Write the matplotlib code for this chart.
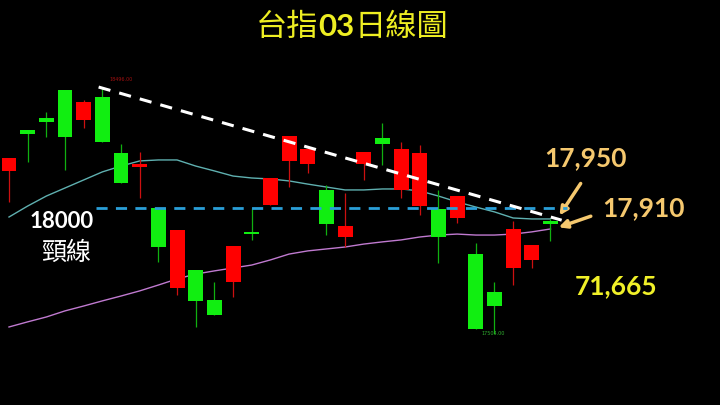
import numpy as np
import matplotlib
matplotlib.use("Agg")
import matplotlib.pyplot as plt

# =========================
# DATA (daily candles)
# =========================
opens = [18152, 18320, 18369, 18484, 18361, 18455, 18226, 18168, 18000, 17672,
         17746, 17623, 17697, 17900, 18012, 18193, 18180, 18074, 17881, 18180,
         18287, 18074, 18008, 17996, 17959, 17811, 17656, 17754, 17787, 17947]
closes = [18205, 18303, 18353, 18291, 18435, 18271, 18103, 18180, 17840, 17910,
          17619, 17561, 17844, 17893, 18123, 18295, 18242, 17934, 17926, 18230,
          18262, 18242, 18226, 17881, 18049, 17504, 17598, 17914, 17848, 17934]
highs = [18205, 18320, 18394, 18484, 18443, 18496, 18262, 18230, 18000, 17910,
         17746, 17697, 17844, 18000, 18123, 18295, 18242, 18094, 18062, 18230,
         18349, 18271, 18258, 18074, 18049, 17857, 17697, 17947, 17848, 17955]
lows = [18025, 18189, 18291, 18156, 18328, 18271, 18103, 18041, 17779, 17643,
        17512, 17561, 17635, 17869, 18012, 18086, 18144, 17889, 17840, 18115,
        18176, 18041, 17971, 17775, 17939, 17504, 17483, 17684, 17754, 17865]

ma_short = [17963, 18008, 18049, 18082, 18115, 18148, 18172, 18193, 18197, 18197,
            18172, 18152, 18131, 18123, 18119, 18111, 18098, 18086, 18074, 18074,
            18078, 18078, 18070, 18049, 18025, 18004, 17984, 17959, 17955, 17955]
ma_long = [17512, 17533, 17553, 17578, 17598, 17619, 17639, 17660, 17684, 17709,
           17729, 17742, 17754, 17766, 17787, 17811, 17824, 17832, 17840, 17852,
           17861, 17869, 17881, 17889, 17893, 17889, 17889, 17893, 17902, 17914]

# trend line (from the swing high) and neckline
trend_x = [4.8, 29.6]
trend_y = [18496, 17950]
neck_x = [4.66, 29.9]
neck_level = 18000

# candles carrying the small high / low price tags
hi_tag = 5
lo_tag = 25

RED = "#ff0000"
GREEN = "#11ee11"

# =========================
# FIGURE
# =========================
fig = plt.figure(figsize=(7.2, 4.05), dpi=100, facecolor="black")
ax = fig.add_axes([0, 0, 1, 1])
ax.set_facecolor("black")
ax.set_xlim(-0.482, 38.08)
ax.set_ylim(17192, 18853)
ax.axis("off")

x = np.arange(len(opens))

# moving averages
ax.plot(x, ma_short, color="#5fb0b0", lw=1.0, zorder=2)
ax.plot(x, ma_long, color="#c07ad0", lw=1.0, zorder=2)

# candles
for i in range(len(opens)):
    o, c, h, l = opens[i], closes[i], highs[i], lows[i]
    col = RED if c >= o else GREEN
    wick = "#cc1010" if c >= o else "#10b010"
    ax.vlines(x[i], l, h, color=wick, lw=0.9, zorder=3)
    bottom = min(o, c)
    height = max(abs(c - o), 6)
    ax.bar(x[i], height, bottom=bottom, width=0.8, color=col,
           edgecolor="none", zorder=4)

# neckline + trendline
ax.plot(neck_x, [neck_level, neck_level], color="#2a9fd8", lw=2,
        ls=(0, (4, 3)), zorder=5)
ax.plot(trend_x, trend_y, color="white", lw=2.2, ls=(0, (4, 3)), zorder=5)

# tiny high/low labels
ax.text(x[hi_tag] + 0.4, highs[hi_tag] + 20, f"{highs[hi_tag]:.2f}",
        color="#a01010", fontsize=3.5, va="bottom", ha="left")
ax.text(x[lo_tag] + 0.3, lows[lo_tag] - 10, f"{lows[lo_tag]:.2f}",
        color="#30b030", fontsize=3.5, va="top", ha="left")

# =========================
# TEXT
# =========================
cjk = ["Noto Sans CJK TC", "DejaVu Sans"]
title_col = "#eeee22"
t1 = fig.text(256 / 720, 1 - 27 / 405, "台指", color=title_col, fontsize=22.5,
              family=cjk, va="center", ha="left")
t2 = ax.annotate("03", xy=(1, 0.5), xycoords=t1, va="center", ha="left",
                 color=title_col, fontsize=22.5, family="Lato", weight="bold")
t3 = ax.annotate("日線圖", xy=(1, 0.5), xycoords=t2, va="center", ha="left",
                 color=title_col, fontsize=22.5, family=cjk)

fig.text(62 / 720, 1 - 222 / 405, "18000", color="white", fontsize=16,
         family="Lato", weight="bold", ha="center", va="center")
fig.text(66 / 720, 1 - 253 / 405, "頸線", color="white", fontsize=18,
         family=cjk, ha="center", va="center")

orange = "#f5c86e"
ax.annotate("", xy=(29.4, 17960), xytext=(30.7, 18110),
            arrowprops=dict(arrowstyle="-|>", color=orange, lw=2.5,
                            mutation_scale=12))
ax.annotate("", xy=(29.3, 17917), xytext=(31.3, 17970),
            arrowprops=dict(arrowstyle="-|>", color=orange, lw=2.5,
                            mutation_scale=12))
fig.text(585 / 720, 1 - 158 / 405, "17,950", color=orange, fontsize=19,
         family="Lato", weight="bold", ha="center", va="center")
fig.text(643 / 720, 1 - 208 / 405, "17,910", color=orange, fontsize=19,
         family="Lato", weight="bold", ha="center", va="center")
fig.text(616 / 720, 1 - 286 / 405, "71,665", color="#f0f028", fontsize=19,
         family="Lato", weight="bold", ha="center", va="center")

fig.savefig("out.png", dpi=100, facecolor="black")
